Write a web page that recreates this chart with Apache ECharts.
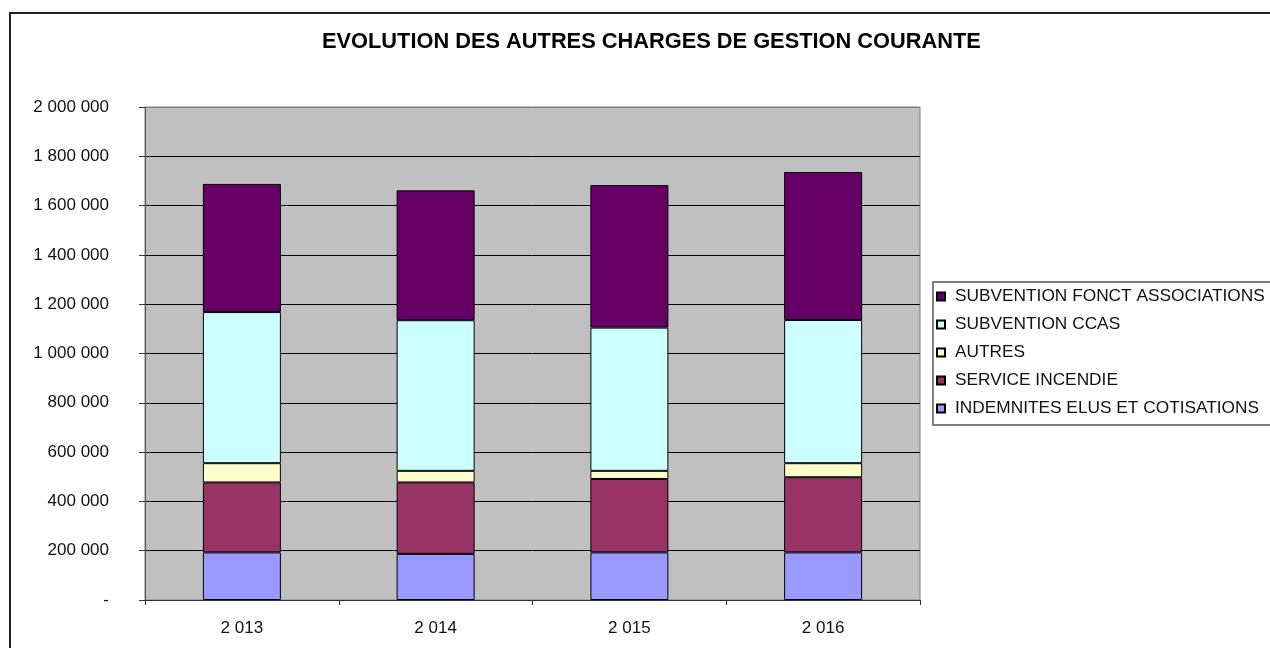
<!DOCTYPE html>
<html>
<head>
<meta charset="utf-8">
<script src="https://cdn.jsdelivr.net/npm/echarts@6/dist/echarts.min.js"></script>
<style>
  html, body { margin: 0; padding: 0; background: #fff; }
  #chart { width: 1270px; height: 648px; }
</style>
</head>
<body>
<div id="chart"></div>
<script>
// annees
const years = ['2 013', '2 014', '2 015', '2 016'];

// montants par poste (du bas vers le haut de la pile)
const indemnites = [193000, 187000, 193000, 193000];
const serviceIncendie = [284000, 290000, 298000, 305000];
const autres = [78000, 47000, 33000, 57000];
const subventionCcas = [613000, 611000, 581000, 581000];
const subventionAssoc = [520000, 527000, 578000, 600000];

// libelles de l'axe vertical, 0 -> 2 000 000
const yTickLabels = ['-', '200 000', '400 000', '600 000', '800 000', '1 000 000',
  '1 200 000', '1 400 000', '1 600 000', '1 800 000', '2 000 000'];

const FONT = '"Liberation Sans", Arial, sans-serif';

function barSeries(name, data, color) {
  return {
    name,
    type: 'bar',
    stack: 'total',
    data,
    barWidth: 78,
    itemStyle: { color, borderColor: '#000', borderWidth: 1 },
  };
}

const chart = echarts.init(document.getElementById('chart'));
chart.setOption({
  backgroundColor: '#fff',
  animation: false,
  title: {
    text: 'EVOLUTION DES AUTRES CHARGES DE GESTION COURANTE',
    left: 317,
    top: 26,
    textStyle: { fontFamily: FONT, fontSize: 21.8, fontWeight: 'bold', color: '#000' },
  },
  graphic: [{
    type: 'rect',
    shape: { x: 10, y: 13, width: 1300, height: 700 },
    style: { fill: 'none', stroke: '#222', lineWidth: 2 },
    silent: true,
  }],
  legend: {
    orient: 'vertical',
    left: 933,
    top: 282,
    padding: [6, 10, 8, 3],
    itemWidth: 8,
    itemHeight: 8,
    itemGap: 11,
    borderColor: '#555',
    borderWidth: 1.5,
    icon: 'rect',
    textStyle: { fontFamily: FONT, fontSize: 17.3, color: '#111', lineHeight: 17, padding: [0, 0, 0, 5] },
    data: ['SUBVENTION FONCT ASSOCIATIONS', 'SUBVENTION CCAS', 'AUTRES',
      'SERVICE INCENDIE', 'INDEMNITES ELUS ET COTISATIONS'],
  },
  grid: {
    left: 145,
    right: 350,
    top: 107,
    bottom: 48,
    show: true,
    backgroundColor: '#C0C0C0',
    borderColor: '#808080',
    borderWidth: 1,
  },
  xAxis: {
    type: 'category',
    data: years,
    axisLine: { lineStyle: { color: '#333', width: 1 } },
    axisTick: { show: true, length: 5, lineStyle: { color: '#333' } },
    axisLabel: { fontFamily: FONT, fontSize: 17, color: '#111', margin: 20 },
  },
  yAxis: {
    type: 'value',
    min: 0,
    max: 2000000,
    interval: 200000,
    axisLine: { show: true, lineStyle: { color: '#555', width: 1 } },
    axisTick: { show: true, length: 6, lineStyle: { color: '#333' } },
    axisLabel: {
      fontFamily: FONT, fontSize: 17, color: '#111', margin: 36,
      formatter: (v) => yTickLabels[Math.round(v / 200000)],
    },
    splitLine: {
      lineStyle: {
        color: ['#000', '#000', '#000', '#000', '#000', '#000', '#000', '#000', '#000', '#000', '#808080'],
        width: 1,
      },
    },
  },
  series: [
    barSeries('INDEMNITES ELUS ET COTISATIONS', indemnites, '#9999FF'),
    barSeries('SERVICE INCENDIE', serviceIncendie, '#993366'),
    barSeries('AUTRES', autres, '#FFFFCC'),
    barSeries('SUBVENTION CCAS', subventionCcas, '#CCFFFF'),
    barSeries('SUBVENTION FONCT ASSOCIATIONS', subventionAssoc, '#660066'),
  ],
});
</script>
</body>
</html>
